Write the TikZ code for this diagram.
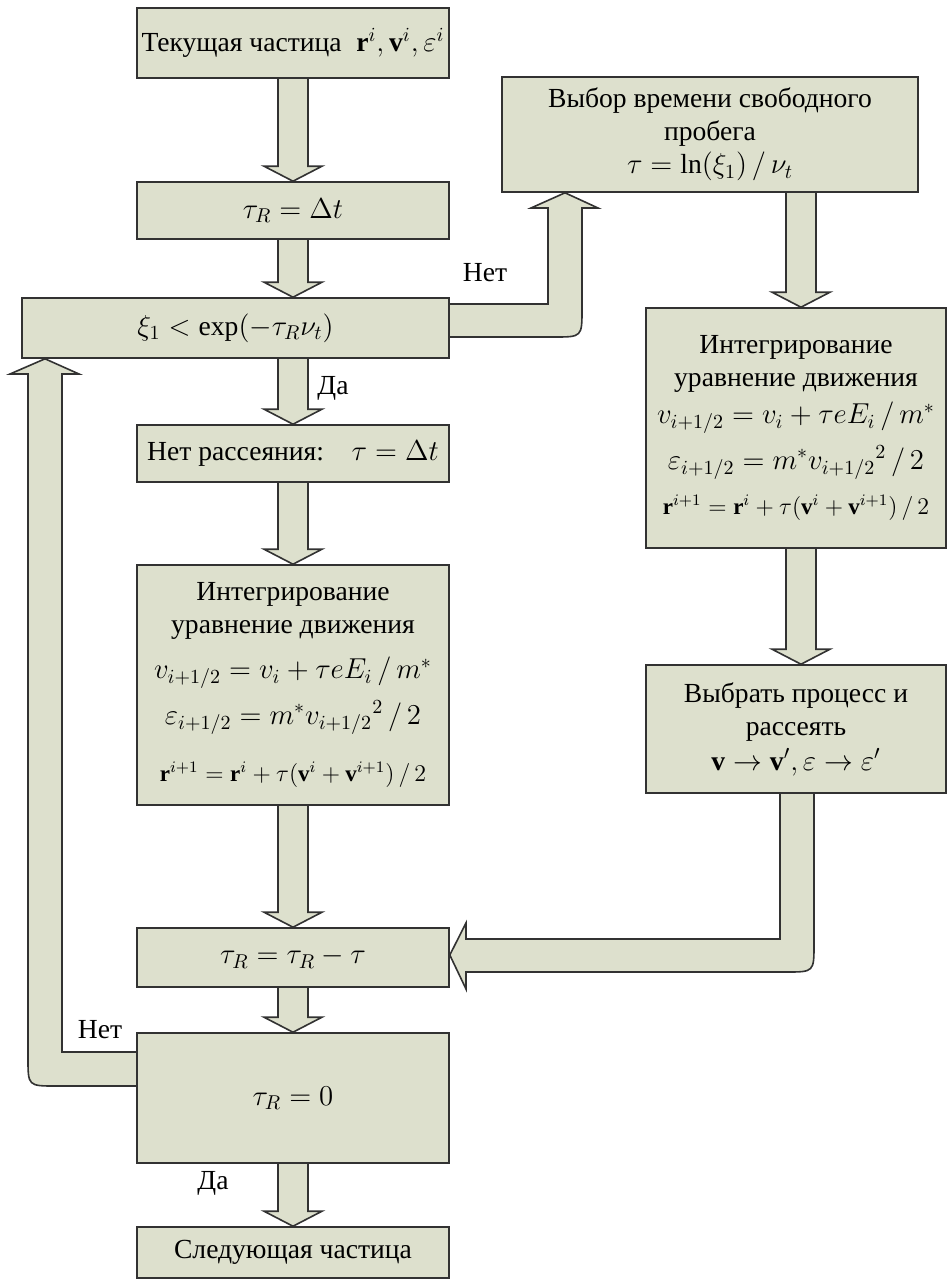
\documentclass[tikz,border=0pt]{standalone}
\usepackage{fontspec}
\setmainfont{Liberation Serif}
\usepackage{amsmath}
\usepackage{tikz}
\usetikzlibrary{backgrounds,calc}

\definecolor{boxfill}{RGB}{221,224,205}
\definecolor{boxline}{RGB}{50,50,50}

% block arrow going down: from node, to node, shaft centre x
\newcommand{\vblock}[3]{%
  \filldraw[blk] let \p1=(#1.south), \p2=(#2.north), \p3=(#3,0) in
    ({\x3-7.5pt},\y1) -- ({\x3-7.5pt},{\y2+7.5pt}) -- ({\x3-14.5pt},{\y2+7.5pt})
    -- (\x3,\y2) -- ({\x3+14.5pt},{\y2+7.5pt}) -- ({\x3+7.5pt},{\y2+7.5pt})
    -- ({\x3+7.5pt},\y1);}

\begin{document}
\begin{tikzpicture}[x=0.5pt,y=-0.5pt,
    box/.style={draw=boxline, fill=boxfill, line width=0.8pt, align=center, inner sep=2pt,
      font=\fontsize{13.8pt}{16.5pt}\selectfont},
    blk/.style={draw=boxline, fill=boxfill, line width=0.8pt, line join=miter},
    lbl/.style={font=\fontsize{13.8pt}{16.5pt}\selectfont}]

  \useasboundingbox (0,0) rectangle (948,1284);

  % we place the left column
  \node[box, minimum width=156pt, minimum height=35pt] (cur) at (293,43)
    {Текущая частица\; $\mathbf{r}^i,\mathbf{v}^i,\varepsilon^i$};
  \node[box, minimum width=156pt, minimum height=28.5pt] (tauR) at (293,210.5)
    {$\tau_R=\Delta t$};
  \node[box, minimum width=213.5pt, minimum height=30pt] (cond) at (235.5,328)
    {$\xi_1<\exp(-\tau_R\nu_t)$};
  \node[box, minimum width=156pt, minimum height=28.5pt] (noscat) at (293,453.5)
    {Нет рассеяния:\quad $\tau=\Delta t$};
  \node[box, minimum width=156pt, minimum height=120pt] (intL) at (293,685)
    {Интегрирование\\уравнение движения\\[6pt]
     $v_{i+1/2}=v_i+\tau eE_i\,/\,m^{*}$\\[5pt]
     $\varepsilon_{i+1/2}=m^{*}{v_{i+1/2}}^{2}\,/\,2$\\[12pt]
     {\fontsize{11.5pt}{13pt}\selectfont $\mathbf{r}^{i+1}=\mathbf{r}^i+\tau(\mathbf{v}^i+\mathbf{v}^{i+1})\,/\,2$}};
  \node[box, minimum width=156pt, minimum height=29.5pt] (upd) at (293,957.5)
    {$\tau_R=\tau_R-\tau$};
  \node[box, minimum width=156pt, minimum height=65pt] (zero) at (293,1098)
    {$\tau_R=0$};
  \node[box, minimum width=156pt, minimum height=25.5pt] (next) at (293,1252.5)
    {Следующая частица};

  % we place the right column
  \node[box, minimum width=208pt, minimum height=57.5pt] (free) at (710,134.5)
    {Выбор времени свободного\\пробега\\$\tau=\ln(\xi_1)\,/\,\nu_t$};
  \node[box, minimum width=150pt, minimum height=120pt] (intR) at (796,428)
    {Интегрирование\\уравнение движения\\[2pt]
     $v_{i+1/2}=v_i+\tau eE_i\,/\,m^{*}$\\[5pt]
     $\varepsilon_{i+1/2}=m^{*}{v_{i+1/2}}^{2}\,/\,2$\\[6pt]
     {\fontsize{11.5pt}{13pt}\selectfont $\mathbf{r}^{i+1}=\mathbf{r}^i+\tau(\mathbf{v}^i+\mathbf{v}^{i+1})\,/\,2$}};
  \node[box, minimum width=150pt, minimum height=64pt] (choose) at (796,729)
    {Выбрать процесс и\\рассеять\\[1pt]$\mathbf{v}\to\mathbf{v}',\varepsilon\to\varepsilon'$};

  % we add the yes/no labels
  \node[lbl] (no1) at (485,273) {Нет};
  \node[lbl] (yes1) at (333,388) {Да};
  \node[lbl] (no2) at (100,1030) {Нет};
  \node[lbl] (yes2) at (213,1183) {Да};

  % we draw the block arrows behind the boxes
  \begin{scope}[on background layer]
    \fill[white] (0,0) rectangle (948,1284);
    \vblock{cur}{tauR}{293}
    \vblock{tauR}{cond}{293}
    \vblock{cond}{noscat}{293}
    \vblock{noscat}{intL}{293}
    \vblock{intL}{upd}{293}
    \vblock{upd}{zero}{293}
    \vblock{zero}{next}{293}
    \vblock{free}{intR}{801}
    \vblock{intR}{choose}{801}

    % no scattering -> go to the free flight choice
    \filldraw[blk] (cond.east |- 0,304) -- (548,304) -- (548,208) -- (531,208)
      -- (565,0 |- free.south) -- (598,208) -- (582,208) -- (582,309)
      .. controls (582,337) .. (554,337) -- (cond.east |- 0,337);
    % after scattering back to the time update
    \filldraw[blk] (780,0 |- choose.south) -- (780,939) -- (466,939) -- (466,923)
      -- (upd.east |- 0,955) -- (466,989) -- (466,972) -- (786,972)
      .. controls (814,972) .. (814,944) -- (814,0 |- choose.south);
    % loop back while time is left
    \filldraw[blk] (zero.west |- 0,1052) -- (62,1052) -- (62,374) -- (79,374)
      -- (45,0 |- cond.south) -- (10,374) -- (28,374) -- (28,1058)
      .. controls (28,1086) .. (56,1086) -- (zero.west |- 0,1086);
  \end{scope}
\end{tikzpicture}
\end{document}
